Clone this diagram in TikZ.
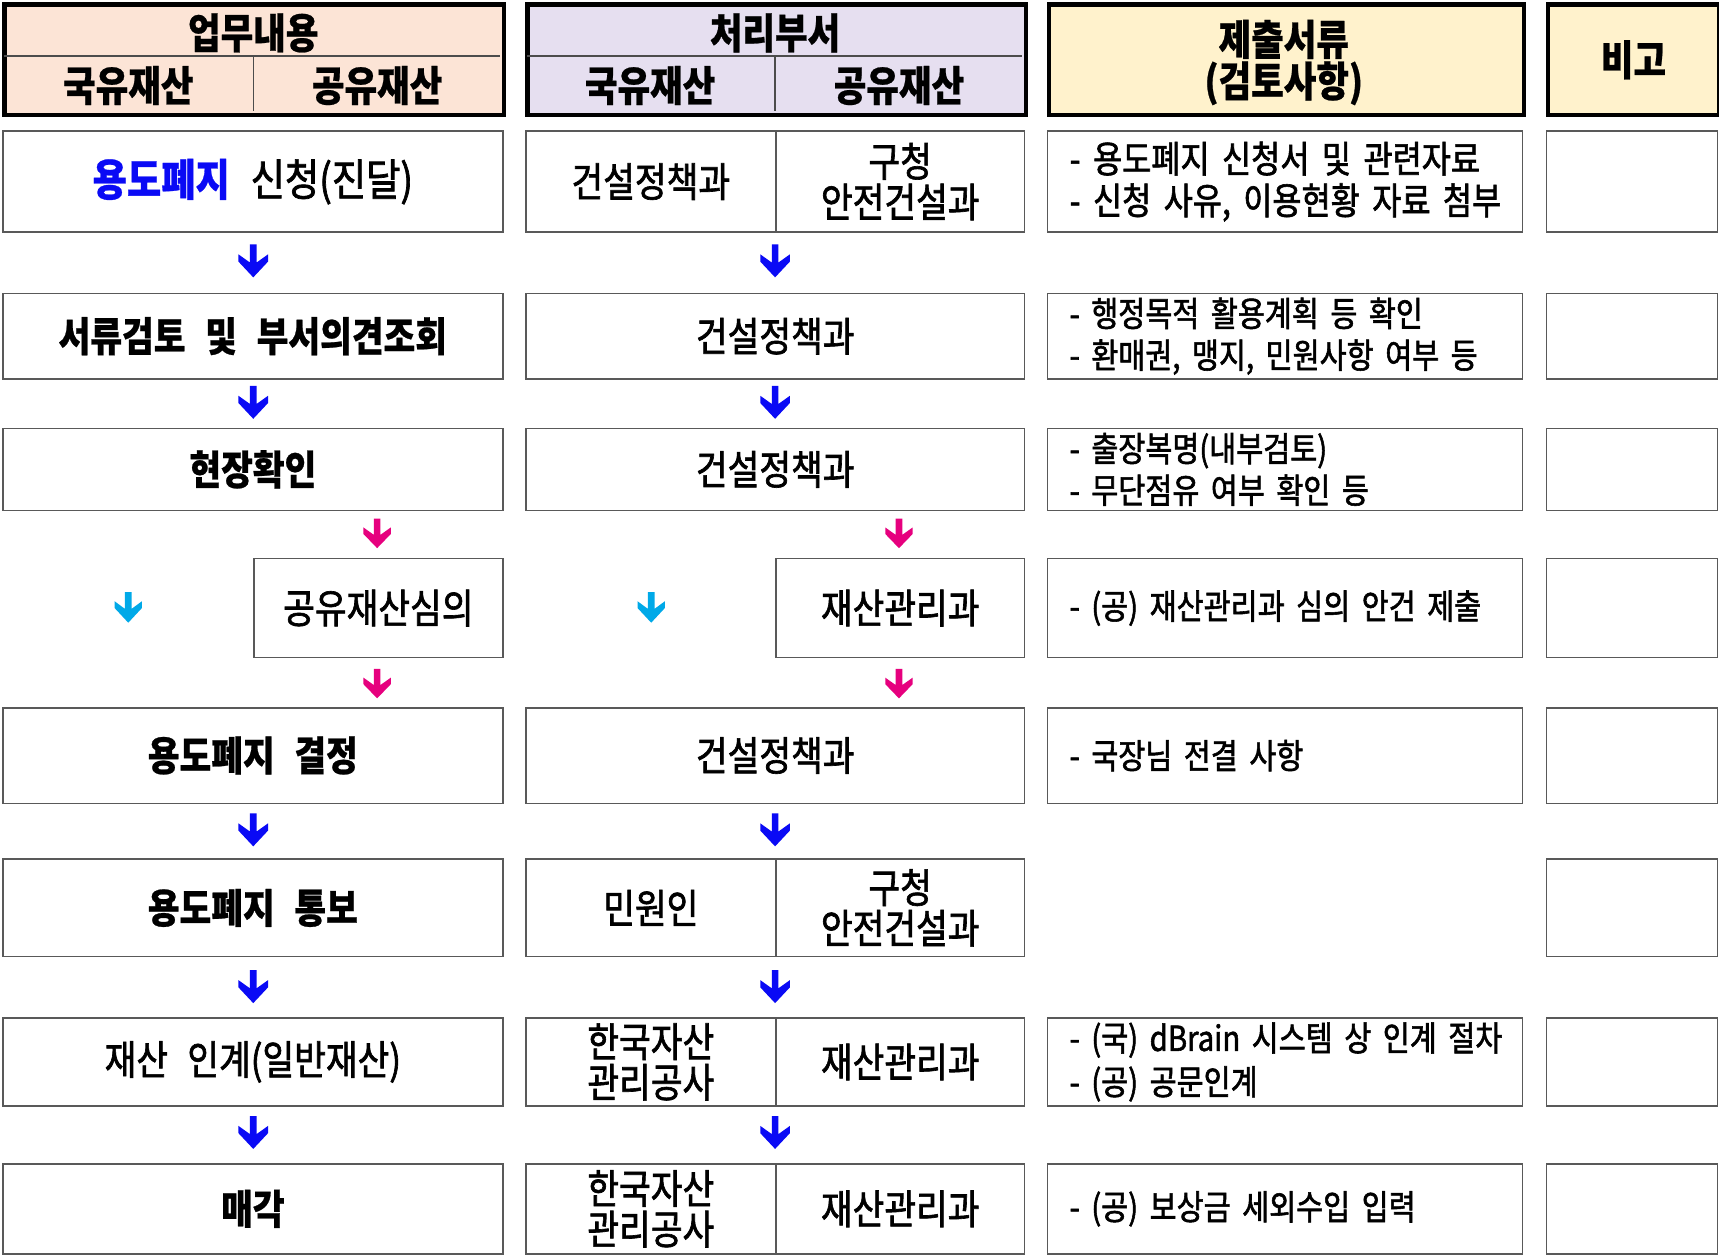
\documentclass[tikz,border=0pt]{standalone}
\usepackage{fontspec}
\newfontfamily\kr[FakeStretch=0.85,WordSpace=2.5,BoldFeatures={FakeBold=0.6}]{Noto Sans CJK KR}
\newfontfamily\krM[FakeStretch=0.85,WordSpace=2.5,FakeBold=1.6]{Noto Sans CJK KR}
\definecolor{peachc}{HTML}{FCE4D6}
\definecolor{lavc}{HTML}{E6DFF0}
\definecolor{yelc}{HTML}{FFF2CC}
\definecolor{kblue}{HTML}{0A0AF5}
\definecolor{kmag}{HTML}{E6007E}
\definecolor{kcyan}{HTML}{00A9E8}
\newcommand\fH{\kr\bfseries\fontsize{38}{37}\selectfont}
\newcommand\fB{\kr\bfseries\fontsize{37}{37}\selectfont}
\newcommand\fM{\krM\fontsize{37}{37}\selectfont}
\newcommand\fC{\krM\fontsize{31.5}{38}\selectfont}
\newcommand\oneline[1]{\mbox{#1}}
\tikzset{
  cellbox/.style={draw=black!65, line width=1.3pt, fill=white, inner sep=0pt, align=center, anchor=north west},
  hdrbox/.style={draw=black, line width=4pt, inner sep=0pt, anchor=north west},
  hdrtxt/.style={inner sep=0pt, font=\fH, align=center},
  ctext/.style={text width=393pt, align=left, inner xsep=0pt, font=\fC},
  thinline/.style={draw=black!70, line width=1.2pt}
}
% name, x1, y1, x2, y2, options, text
\newcommand\cellat[7]{\node[cellbox, minimum width={(#4-#2)*1pt}, minimum height={(#5-#3)*1pt}, #6] (#1) at (#2,#3) {#7};}
% x, ytop, length, halfwidth, colour
\newcommand\dnarrow[5]{\fill[#5] ({#1-3},#2) -- ({#1+3},#2) -- ({#1+3},{#2+0.55*#3}) -- ({#1+#4},{#2+0.3*#3}) -- ({#1+#4},{#2+0.52*#3}) -- (#1,{#2+#3}) -- ({#1-#4},{#2+0.52*#3}) -- ({#1-#4},{#2+0.3*#3}) -- ({#1-3},{#2+0.55*#3}) -- cycle;}
\begin{document}
\begin{tikzpicture}[x=1pt,y=-1pt]
\fill[white] (0,0) rectangle (1568,1144);
\useasboundingbox (0,0) rectangle (1568,1144);
% ---------- headers ----------
\node[hdrbox, fill=peachc, minimum width=456pt, minimum height=101pt] (hA) at (2,2) {};
\draw[thinline] (4,51) -- (456,51);
\draw[thinline] (231,51) -- (231,101);
\node[hdrtxt] (hAt) at (231,30) {업무내용};
\node[hdrtxt] (hA1) at (117,78) {국유재산};
\node[hdrtxt] (hA2) at (344,78) {공유재산};
\node[hdrbox, fill=lavc, minimum width=455pt, minimum height=101pt] (hB) at (479,2) {};
\draw[thinline] (481,51) -- (932,51);
\draw[thinline] (707,51) -- (707,101);
\node[hdrtxt] (hBt) at (707,30) {처리부서};
\node[hdrtxt] (hB1) at (593,78) {국유재산};
\node[hdrtxt] (hB2) at (820,78) {공유재산};
\node[hdrbox, fill=yelc, minimum width=433pt, minimum height=101pt] (hC) at (955,2) {};
\node[hdrtxt] (hCt) at (1171,57) {제출서류\\[1pt](검토사항)};
\node[hdrbox, fill=yelc, minimum width=156pt, minimum height=101pt, font=\fH] (hD) at (1410,2) {비고};
% ---------- row 1 ----------
\cellat{r1a}{2}{119}{458}{211}{font=\krM\fontsize{40}{40}\selectfont}{{\kr\bfseries\color{kblue}용도폐지} 신청(진달)}
\cellat{r1b1}{479}{119}{707}{211}{font=\fM}{건설정책과}
\cellat{r1b2}{707}{119}{934}{211}{font=\fM}{구청\\안전건설과}
\cellat{r1c}{955}{119}{1388}{211}{ctext, font=\krM\fontsize{34}{38}\selectfont}{\oneline{- 용도폐지 신청서 및 관련자료}\\\oneline{- 신청 사유, 이용현황 자료 첨부}}
\cellat{r1d}{1410}{119}{1566}{211}{}{}
% ---------- row 2 ----------
\cellat{r2a}{2}{267}{458}{345}{font=\fB}{서류검토 및 부서의견조회}
\cellat{r2b}{479}{267}{934}{345}{font=\fM}{건설정책과}
\cellat{r2c}{955}{267}{1388}{345}{ctext}{\oneline{- 행정목적 활용계획 등 확인}\\\oneline{- 환매권, 맹지, 민원사항 여부 등}}
\cellat{r2d}{1410}{267}{1566}{345}{}{}
% ---------- row 3 ----------
\cellat{r3a}{2}{390}{458}{465}{font=\fB}{현장확인}
\cellat{r3b}{479}{390}{934}{465}{font=\fM}{건설정책과}
\cellat{r3c}{955}{390}{1388}{465}{ctext}{\oneline{- 출장복명(내부검토)}\\\oneline{- 무단점유 여부 확인 등}}
\cellat{r3d}{1410}{390}{1566}{465}{}{}
% ---------- row 4 ----------
\cellat{r4a}{231}{509}{458}{599}{font=\fM}{공유재산심의}
\cellat{r4b}{707}{509}{934}{599}{font=\fM}{재산관리과}
\cellat{r4c}{955}{509}{1388}{599}{ctext}{\oneline{- (공) 재산관리과 심의 안건 제출}}
\cellat{r4d}{1410}{509}{1566}{599}{}{}
% ---------- row 5 ----------
\cellat{r5a}{2}{645}{458}{732}{font=\fB}{용도폐지 결정}
\cellat{r5b}{479}{645}{934}{732}{font=\fM}{건설정책과}
\cellat{r5c}{955}{645}{1388}{732}{ctext}{\oneline{- 국장님 전결 사항}}
\cellat{r5d}{1410}{645}{1566}{732}{}{}
% ---------- row 6 ----------
\cellat{r6a}{2}{783}{458}{872}{font=\fB}{용도폐지 통보}
\cellat{r6b1}{479}{783}{707}{872}{font=\fM}{민원인}
\cellat{r6b2}{707}{783}{934}{872}{font=\fM}{구청\\안전건설과}
\cellat{r6d}{1410}{783}{1566}{872}{}{}
% ---------- row 7 ----------
\cellat{r7a}{2}{928}{458}{1008}{font=\fM}{재산 인계(일반재산)}
\cellat{r7b1}{479}{928}{707}{1008}{font=\fM}{한국자산\\관리공사}
\cellat{r7b2}{707}{928}{934}{1008}{font=\fM}{재산관리과}
\cellat{r7c}{955}{928}{1388}{1008}{ctext, font=\krM\fontsize{31.5}{40}\selectfont}{\oneline{- (국) dBrain 시스템 상 인계 절차}\\\oneline{- (공) 공문인계}}
\cellat{r7d}{1410}{928}{1566}{1008}{}{}
% ---------- row 8 ----------
\cellat{r8a}{2}{1061}{458}{1143}{font=\fB}{매각}
\cellat{r8b1}{479}{1061}{707}{1143}{font=\fM}{한국자산\\관리공사}
\cellat{r8b2}{707}{1061}{934}{1143}{font=\fM}{재산관리과}
\cellat{r8c}{955}{1061}{1388}{1143}{ctext}{\oneline{- (공) 보상금 세외수입 입력}}
\cellat{r8d}{1410}{1061}{1566}{1143}{}{}
% ---------- arrows ----------
\foreach \ax in {231,707}{
  \dnarrow{\ax}{223}{30}{13.5}{kblue}
  \dnarrow{\ax}{352}{30}{13.5}{kblue}
  \dnarrow{\ax}{742}{30}{13.5}{kblue}
  \dnarrow{\ax}{885}{30}{13.5}{kblue}
  \dnarrow{\ax}{1018}{30}{13.5}{kblue}
}
\foreach \ax in {344,820}{
  \dnarrow{\ax}{473}{27}{12.5}{kmag}
  \dnarrow{\ax}{610}{27}{12.5}{kmag}
}
\foreach \ax in {117,594}{
  \dnarrow{\ax}{540}{28}{12.5}{kcyan}
}
\end{tikzpicture}
\end{document}
